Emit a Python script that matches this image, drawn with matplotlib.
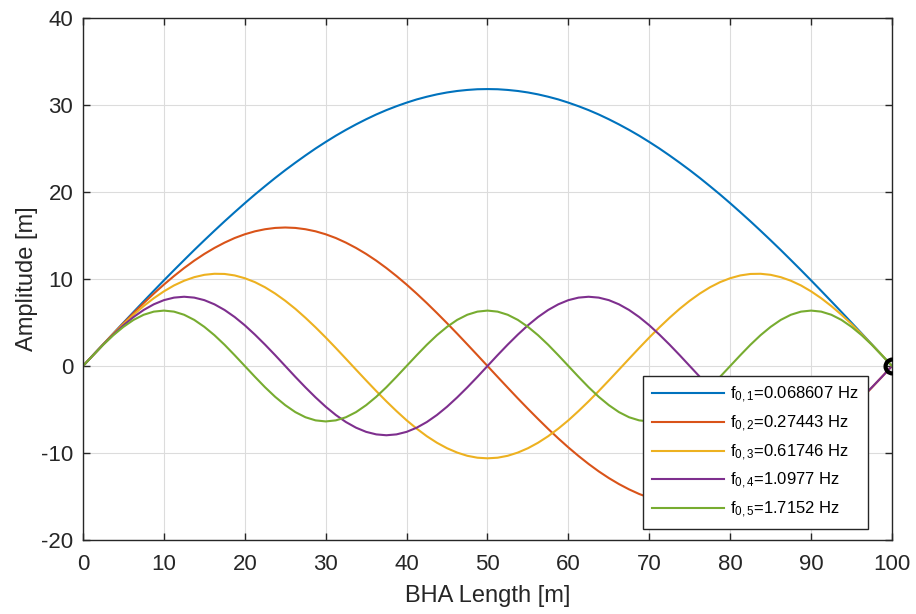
import numpy as np
import matplotlib
matplotlib.use('Agg')
import matplotlib.pyplot as plt

plt.rcParams['font.family'] = ['Liberation Sans', 'DejaVu Sans']
plt.rcParams['mathtext.fontset'] = 'custom'
plt.rcParams['mathtext.rm'] = 'Liberation Sans'
plt.rcParams['mathtext.it'] = 'Liberation Sans'
plt.rcParams['axes.unicode_minus'] = False

# posicoes ao longo do BHA (m), lidas a cada 1.25 m
bha_x = [0, 1.25, 2.5, 3.75, 5, 6.25, 7.5, 8.75, 10, 11.25, 12.5, 13.75, 15, 16.25, 17.5,
         18.75, 20, 21.25, 22.5, 23.75, 25, 26.25, 27.5, 28.75, 30, 31.25, 32.5, 33.75, 35,
         36.25, 37.5, 38.75, 40, 41.25, 42.5, 43.75, 45, 46.25, 47.5, 48.75, 50, 51.25, 52.5,
         53.75, 55, 56.25, 57.5, 58.75, 60, 61.25, 62.5, 63.75, 65, 66.25, 67.5, 68.75, 70,
         71.25, 72.5, 73.75, 75, 76.25, 77.5, 78.75, 80, 81.25, 82.5, 83.75, 85, 86.25, 87.5,
         88.75, 90, 91.25, 92.5, 93.75, 95, 96.25, 97.5, 98.75, 100]

# amplitudes de cada modo (m)
mode1 = [0, 1.25, 2.50, 3.74, 4.98, 6.21, 7.43, 8.64, 9.84, 11.02,
         12.18, 13.33, 14.45, 15.55, 16.63, 17.68, 18.71, 19.71, 20.67, 21.61,
         22.51, 23.37, 24.20, 25.00, 25.75, 26.47, 27.14, 27.77, 28.36, 28.91,
         29.41, 29.86, 30.27, 30.64, 30.95, 31.22, 31.44, 31.61, 31.73, 31.81,
         31.83,
         31.81, 31.73, 31.61, 31.44, 31.22, 30.95, 30.64, 30.27, 29.86, 29.41,
         28.91, 28.36, 27.77, 27.14, 26.47, 25.75, 25.00, 24.20, 23.37, 22.51,
         21.61, 20.67, 19.71, 18.71, 17.68, 16.63, 15.55, 14.45, 13.33, 12.18,
         11.02, 9.84, 8.64, 7.43, 6.21, 4.98, 3.74, 2.50, 1.25, 0]
mode2 = [0, 1.25, 2.49, 3.72, 4.92, 6.09, 7.23, 8.32, 9.36, 10.34,
         11.26, 12.11, 12.88, 13.57, 14.18, 14.71, 15.14, 15.48, 15.72, 15.87,
         15.92, 15.87, 15.72, 15.48, 15.14, 14.71, 14.18, 13.57, 12.88, 12.11,
         11.26, 10.34, 9.36, 8.32, 7.23, 6.09, 4.92, 3.72, 2.49, 1.25,
         0,
         -1.25, -2.49, -3.72, -4.92, -6.09, -7.23, -8.32, -9.36, -10.34, -11.26,
         -12.11, -12.88, -13.57, -14.18, -14.71, -15.14, -15.48, -15.72, -15.87, -15.92,
         -15.87, -15.72, -15.48, -15.14, -14.71, -14.18, -13.57, -12.88, -12.11, -11.26,
         -10.34, -9.36, -8.32, -7.23, -6.09, -4.92, -3.72, -2.49, -1.25, 0]
mode3 = [0, 1.25, 2.48, 3.67, 4.82, 5.89, 6.89, 7.79, 8.58, 9.26,
         9.80, 10.21, 10.48, 10.60, 10.58, 10.41, 10.09, 9.64, 9.05, 8.33,
         7.50, 6.57, 5.54, 4.44, 3.28, 2.07, 0.83, -0.42, -1.66, -2.88,
         -4.06, -5.18, -6.24, -7.20, -8.07, -8.82, -9.45, -9.95, -10.32, -10.54,
         -10.61,
         -10.54, -10.32, -9.95, -9.45, -8.82, -8.07, -7.20, -6.24, -5.18, -4.06,
         -2.88, -1.66, -0.42, 0.83, 2.07, 3.28, 4.44, 5.54, 6.57, 7.50,
         8.33, 9.05, 9.64, 10.09, 10.41, 10.58, 10.60, 10.48, 10.21, 9.80,
         9.26, 8.58, 7.79, 6.89, 5.89, 4.82, 3.67, 2.48, 1.25, 0]
mode4 = [0,
         1.25, 2.46, 3.61, 4.68, 5.63, 6.44, 7.09, 7.57, 7.86, 7.96,
         7.86, 7.57, 7.09, 6.44, 5.63, 4.68, 3.61, 2.46, 1.25, 0,
         -1.25, -2.46, -3.61, -4.68, -5.63, -6.44, -7.09, -7.57, -7.86, -7.96,
         -7.86, -7.57, -7.09, -6.44, -5.63, -4.68, -3.61, -2.46, -1.25, 0,
         1.25, 2.46, 3.61, 4.68, 5.63, 6.44, 7.09, 7.57, 7.86, 7.96,
         7.86, 7.57, 7.09, 6.44, 5.63, 4.68, 3.61, 2.46, 1.25, 0,
         -1.25, -2.46, -3.61, -4.68, -5.63, -6.44, -7.09, -7.57, -7.86, -7.96,
         -7.86, -7.57, -7.09, -6.44, -5.63, -4.68, -3.61, -2.46, -1.25, 0]
mode5 = [0,
         1.24, 2.44, 3.54, 4.50, 5.30, 5.89, 6.25, 6.37,
         6.25, 5.89, 5.30, 4.50, 3.54, 2.44, 1.24, 0,
         -1.24, -2.44, -3.54, -4.50, -5.30, -5.89, -6.25, -6.37,
         -6.25, -5.89, -5.30, -4.50, -3.54, -2.44, -1.24, 0,
         1.24, 2.44, 3.54, 4.50, 5.30, 5.89, 6.25, 6.37,
         6.25, 5.89, 5.30, 4.50, 3.54, 2.44, 1.24, 0,
         -1.24, -2.44, -3.54, -4.50, -5.30, -5.89, -6.25, -6.37,
         -6.25, -5.89, -5.30, -4.50, -3.54, -2.44, -1.24, 0,
         1.24, 2.44, 3.54, 4.50, 5.30, 5.89, 6.25, 6.37,
         6.25, 5.89, 5.30, 4.50, 3.54, 2.44, 1.24, 0]

freqs = ['0.068607', '0.27443', '0.61746', '1.0977', '1.7152']
cores = ['#0072BD', '#D95319', '#EDB120', '#7E2F8E', '#77AC30']

fig = plt.figure(figsize=(9.16, 6.14), dpi=100)
ax = fig.add_axes([0.0906, 0.1205, 0.8832, 0.8502])

modos = [mode1, mode2, mode3, mode4, mode5]
for i, (m, c) in enumerate(zip(modos, cores)):
    ax.plot(bha_x, m, color=c, linewidth=1.5,
            label=r'f$_{\mathrm{0,%d}}$=%s Hz' % (i + 1, freqs[i]))

# ponto final (x=100, y=0)
ax.plot([bha_x[-1]], [mode1[-1]], 'o', markerfacecolor='none', markeredgecolor='black',
        markeredgewidth=3, markersize=10, zorder=5)

ax.set_xlim(0, 100)
ax.set_ylim(-20, 40)
ax.set_xticks(np.arange(0, 101, 10))
ax.set_yticks(np.arange(-20, 41, 10))
ax.grid(True, color='#dcdcdc', linewidth=0.8)
ax.set_axisbelow(True)
ax.tick_params(direction='in', top=True, right=True, labelsize=16, colors='#262626',
               length=5, width=1)
ax.tick_params(axis='x', pad=10)
ax.tick_params(axis='y', pad=7)
for s in ax.spines.values():
    s.set_color('#262626')
    s.set_linewidth(1)

ax.set_xlabel('BHA Length [m]', fontsize=17, color='#262626', labelpad=7)
ax.set_ylabel('Amplitude [m]', fontsize=17, color='#262626', labelpad=2)

leg = ax.legend(loc='lower right', bbox_to_anchor=(0.970, 0.021), fontsize=12,
                handlelength=4.3, handletextpad=0.4, fancybox=False, framealpha=1,
                edgecolor='#262626', borderaxespad=0, borderpad=0.55, labelspacing=0.5)
leg.get_frame().set_linewidth(1)

plt.savefig('out.png', dpi=100)
